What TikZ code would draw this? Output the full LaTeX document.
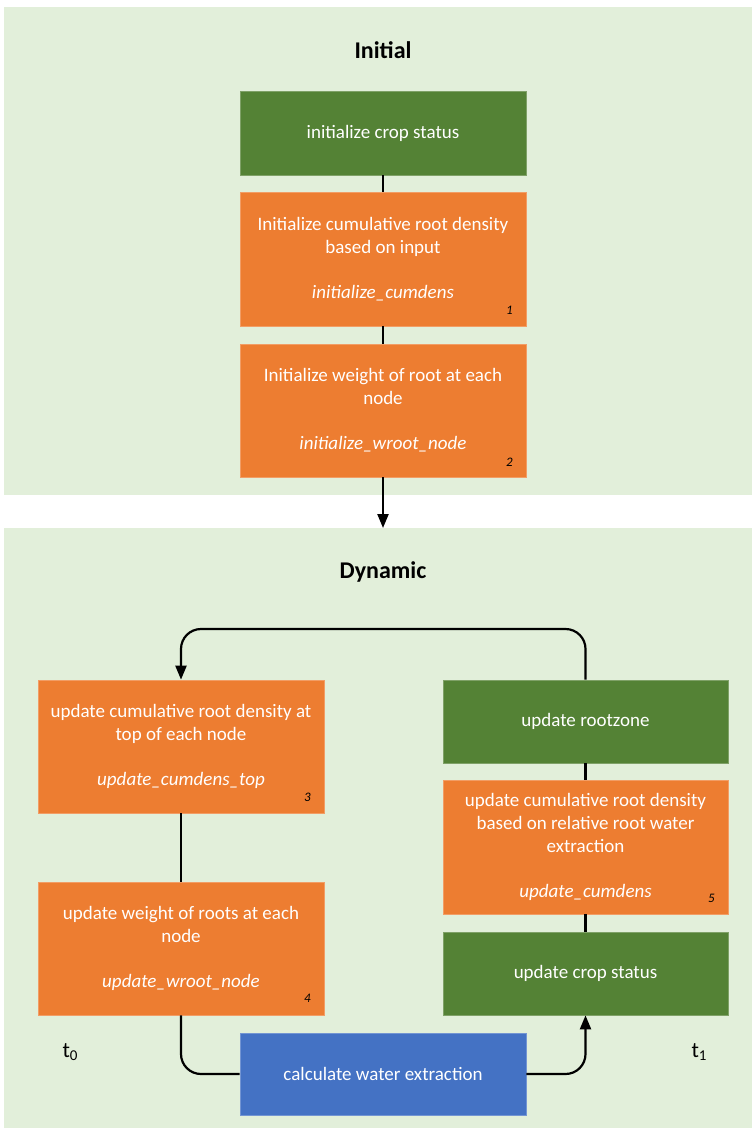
\documentclass[tikz,border=0pt]{standalone}
\usepackage{fontspec}
\setmainfont{Carlito}
\usetikzlibrary{arrows.meta,calc}
\definecolor{bg}{HTML}{E2EFDA}
\definecolor{dgreen}{HTML}{548235}
\definecolor{orng}{HTML}{ED7D31}
\definecolor{blu}{HTML}{4472C4}
\begin{document}
\begin{tikzpicture}[x=1pt,y=-1pt,
  box/.style={minimum width=286pt, inner sep=0pt, align=center, text=white, line width=0.7pt,
    font=\fontsize{19}{23}\selectfont},
  gbox/.style={box, fill=dgreen, draw=dgreen!75!white},
  obox/.style={box, fill=orng, draw=orng!75!white},
  bbox/.style={box, fill=blu, draw=blu!75!white},
  num/.style={font=\fontsize{13}{15}\selectfont\itshape, text=black, inner sep=0pt},
  title/.style={font=\fontsize{24}{28}\selectfont\bfseries, text=black},
  tlab/.style={font=\fontsize{22}{24}\selectfont, text=black},
  conn/.style={line width=2.2pt, black},
  tip/.style={-{Triangle[length=14pt,width=11pt]}}
]
\useasboundingbox (0,0) rectangle (752,1129);
\fill[white] (0,0) rectangle (752,1129);
\fill[bg] (4,7) rectangle (752,495);
\fill[bg] (4,528) rectangle (752,1128);

\node[title] (tinit) at (383,50) {Initial};
\node[title] (tdyn) at (383,572) {Dynamic};

\node[gbox, minimum height=84pt] (A) at (383,133) {initialize crop status};
\node[obox, minimum height=134pt] (B) at (383,259) {Initialize cumulative root density\\based on input\\[22pt]\textit{initialize\_cumdens}};
\node[obox, minimum height=133pt] (C) at (383,410.5) {Initialize weight of root at each\\node\\[22pt]\textit{initialize\_wroot\_node}};

\node[obox, minimum height=133pt] (D) at (181,746.5) {update cumulative root density at\\top of each node\\[22pt]\textit{update\_cumdens\_top}};
\node[obox, minimum height=133pt] (E) at (181,948.5) {update weight of roots at each\\node\\[22pt]\textit{update\_wroot\_node}};
\node[gbox, minimum height=83pt, minimum width=285pt] (F) at (585.5,721.5) {update rootzone};
\node[obox, minimum height=134pt, minimum width=285pt] (G) at (585.5,847) {update cumulative root density\\based on relative root water\\extraction\\[22pt]\textit{update\_cumdens}};
\node[gbox, minimum height=83pt, minimum width=285pt] (H) at (585.5,973.5) {update crop status};
\node[bbox, minimum height=82pt] (I) at (383,1074) {calculate water extraction};

\node[num] (n1) at ($(B.south east)+(-17,-16)$) {1};
\node[num] (n2) at ($(C.south east)+(-17,-15)$) {2};
\node[num] (n3) at ($(D.south east)+(-17,-16)$) {3};
\node[num] (n4) at ($(E.south east)+(-17,-17)$) {4};
\node[num] (n5) at ($(G.south east)+(-17,-16)$) {5};

\node[tlab] (t0) at (70,1052) {t\raisebox{-0.35ex}{\fontsize{15}{17}\selectfont 0}};
\node[tlab] (t1) at (699,1052) {t\raisebox{-0.35ex}{\fontsize{15}{17}\selectfont 1}};

\coordinate (dyntop) at (383,528);
\coordinate (loopy) at (0,629);

\draw[conn] (A.south) -- (B.north);
\draw[conn] (B.south) -- (C.north);
\draw[conn, tip] (C.south) -- (dyntop);
\draw[conn] (D.south) -- (E.north);
\draw[conn] (F.south) -- (G.north);
\draw[conn] (G.south) -- (H.north);
\draw[conn, tip, rounded corners=20pt] (F.north) -- (F.north |- loopy) -- (D.north |- loopy) -- (D.north);
\draw[conn, rounded corners=20pt] (E.south) |- (I.west);
\draw[conn, tip, rounded corners=20pt] (I.east) -| (H.south);
\end{tikzpicture}
\end{document}
